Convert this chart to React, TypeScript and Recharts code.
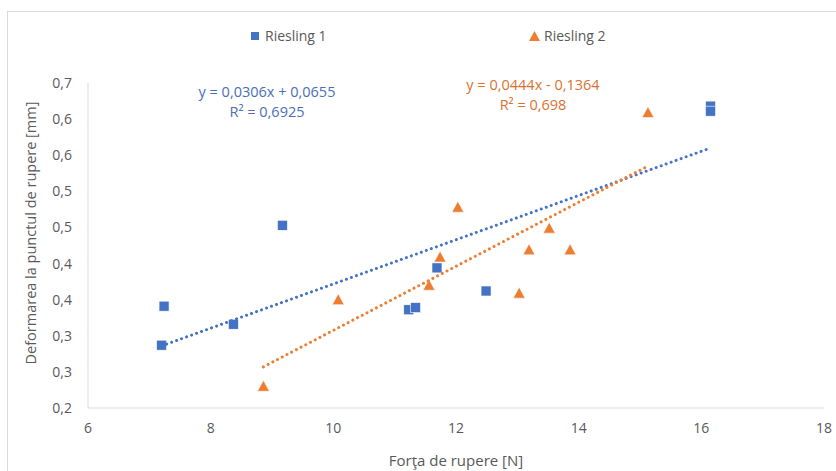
import React from 'react';
import { ScatterChart, Scatter, XAxis, YAxis } from 'recharts';

// Riesling 1 (blue squares)
const riesling1X = [7.2, 7.24, 8.37, 9.17, 11.23, 11.34, 11.69, 12.49, 16.15, 16.15];
const riesling1Y = [0.287, 0.341, 0.316, 0.453, 0.336, 0.339, 0.394, 0.362, 0.618, 0.611];

// Riesling 2 (orange triangles)
const riesling2X = [8.86, 10.08, 11.56, 11.74, 12.03, 13.03, 13.19, 13.52, 13.86, 15.13];
const riesling2Y = [0.23, 0.35, 0.37, 0.409, 0.478, 0.359, 0.419, 0.449, 0.419, 0.609];

// linear trendline endpoints (from the equations printed on the chart)
const trend1X = [7.2, 16.15];
const trend1Y = [0.286, 0.560];
const trend2X = [8.86, 15.13];
const trend2Y = [0.257, 0.535];

const xTicks = [6, 8, 10, 12, 14, 16, 18];
const yTicks = [0.2, 0.25, 0.3, 0.35, 0.4, 0.45, 0.5, 0.55, 0.6, 0.65];
const yTickLabels = ['0,2', '0,3', '0,3', '0,4', '0,4', '0,5', '0,5', '0,6', '0,6', '0,7'];

const BLUE = '#4472C4';
const ORANGE = '#ED7D31';
const GREY = '#595959';
const FONT = '"Open Sans", sans-serif';

const zip = (xs: number[], ys: number[]) => xs.map((x, i) => ({ x, y: ys[i] }));

const Square = (props: any) => {
  const { cx, cy } = props;
  return <rect x={cx - 5} y={cy - 5} width={10} height={10} fill={BLUE} stroke="#fff" strokeWidth={0.6} />;
};

const Triangle = (props: any) => {
  const { cx, cy } = props;
  return (
    <polygon
      points={`${cx},${cy - 6} ${cx + 6},${cy + 5} ${cx - 6},${cy + 5}`}
      fill={ORANGE}
      stroke="#fff"
      strokeWidth={0.6}
    />
  );
};

const NoDot = () => <g />;

const dotted = (color: string) => ({
  stroke: color,
  strokeWidth: 3,
  strokeDasharray: '0.01 5.3',
  strokeLinecap: 'round' as const,
});

export default function App() {
  return (
    <div style={{ position: 'absolute', left: 0, top: 0, width: 836, height: 471, background: '#fff', overflow: 'hidden', fontFamily: FONT }}>
      <div style={{ position: 'absolute', left: 7, top: 11, width: 840, height: 470, border: '1px solid #d9d9d9' }} />

      {/* legend */}
      <div style={{ position: 'absolute', left: 251, top: 26, fontSize: 14, color: GREY, display: 'flex', alignItems: 'center' }}>
        <span style={{ display: 'inline-block', width: 8, height: 8, background: BLUE, marginRight: 6 }} />
        Riesling 1
      </div>
      <div style={{ position: 'absolute', left: 529, top: 26, fontSize: 14, color: GREY, display: 'flex', alignItems: 'center' }}>
        <svg width={11} height={10} style={{ marginRight: 4 }}>
          <polygon points="5.5,0 11,10 0,10" fill={ORANGE} />
        </svg>
        Riesling 2
      </div>

      {/* trendline equations */}
      <div style={{ position: 'absolute', left: 167, width: 200, top: 82, fontSize: 14.5, color: '#4A6FB5', textAlign: 'center', lineHeight: '20px' }}>
        <div>y = 0,0306x + 0,0655</div>
        <div>R² = 0,6925</div>
      </div>
      <div style={{ position: 'absolute', left: 433, width: 200, top: 75, fontSize: 14.5, color: '#D9722F', textAlign: 'center', lineHeight: '20px' }}>
        <div>y = 0,0444x - 0,1364</div>
        <div>R² = 0,698</div>
      </div>

      {/* axis titles */}
      <div style={{ position: 'absolute', left: 0, width: 912, top: 450, fontSize: 15, color: GREY, textAlign: 'center' }}>
        Forţa de rupere [N]
      </div>
      <div
        style={{
          position: 'absolute',
          left: 30,
          top: 233,
          fontSize: 14.5,
          color: GREY,
          whiteSpace: 'nowrap',
          transform: 'translate(-50%, -50%) rotate(-90deg)',
        }}
      >
        Deformarea la punctul de rupere [mm]
      </div>

      <div style={{ position: 'absolute', left: 0, top: 0 }}>
        <ScatterChart width={836} height={471} margin={{ top: 83, right: 12, bottom: 33, left: 28 }}>
          <XAxis
            type="number"
            dataKey="x"
            domain={[6, 18]}
            ticks={xTicks}
            interval={0}
            height={30}
            axisLine={{ stroke: '#d9d9d9' }}
            tickLine={false}
            tickSize={0}
            tickMargin={15}
            tick={{ fill: GREY, fontSize: 14, fontFamily: FONT }}
          />
          <YAxis
            type="number"
            dataKey="y"
            domain={[0.2, 0.65]}
            ticks={yTicks}
            interval={0}
            width={60}
            axisLine={{ stroke: '#d9d9d9' }}
            tickLine={false}
            tickSize={0}
            tickMargin={16}
            tickFormatter={(v: number) => yTickLabels[yTicks.findIndex((t) => Math.abs(t - v) < 1e-6)] ?? ''}
            tick={{ fill: GREY, fontSize: 14, fontFamily: FONT }}
          />
          <Scatter name="Riesling 1" data={zip(riesling1X, riesling1Y)} shape={Square} isAnimationActive={false} />
          <Scatter name="Riesling 2" data={zip(riesling2X, riesling2Y)} shape={Triangle} isAnimationActive={false} />
          <Scatter data={zip(trend1X, trend1Y)} line={dotted(BLUE)} lineType="joint" shape={NoDot} isAnimationActive={false} />
          <Scatter data={zip(trend2X, trend2Y)} line={dotted(ORANGE)} lineType="joint" shape={NoDot} isAnimationActive={false} />
        </ScatterChart>
      </div>
    </div>
  );
}
